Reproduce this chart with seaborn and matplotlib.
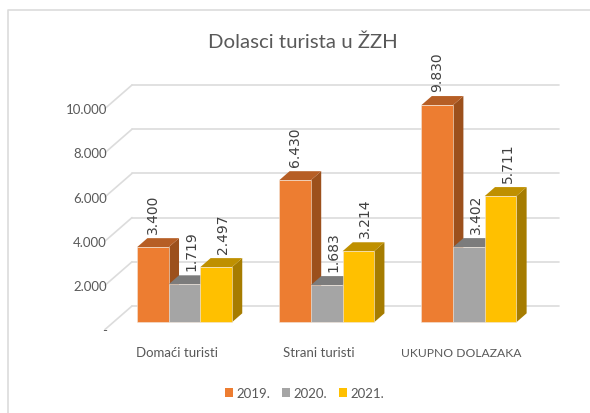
import pandas as pd
import matplotlib
matplotlib.use('Agg')
import matplotlib.pyplot as plt
import seaborn as sns
from matplotlib.lines import Line2D
from matplotlib.patches import Polygon, Patch

# Data
kategorije = ['Domaći turisti', 'Strani turisti', 'UKUPNO DOLAZAKA']
godine = ['2019.', '2020.', '2021.']
v2019 = [3400, 6430, 9830]
v2020 = [1719, 1683, 3402]
v2021 = [2497, 3214, 5711]
oznake = [['3.400', '6.430', '9.830'], ['1.719', '1.683', '3.402'], ['2.497', '3.214', '5.711']]
y_ticks = [0, 2000, 4000, 6000, 8000, 10000]
y_labels = ['-', '2.000', '4.000', '6.000', '8.000', '10.000']

boje = ['#ED7D31', '#A5A5A5', '#FFC000']
boje_vrh = ['#B65E25', '#7C7C7C', '#BF9000']
boje_bok = ['#9C501C', '#6A6A6A', '#A67C00']
siva_tekst = '#595959'
siva_linija = '#DCDCDC'

W, H = 590, 414

df = pd.DataFrame({'kategorija': kategorije * 3,
                   'godina': [g for g in godine for _ in kategorije],
                   'vrijednost': v2019 + v2020 + v2021})

sns.set_theme(style='white')
plt.rcParams['font.family'] = ['Lato', 'DejaVu Sans']

fig = plt.figure(figsize=(W / 100, H / 100), dpi=100)
# axes = plane of the front bar faces
left, right, bottom, top = 113, 540, 323.3, 102.3
ax = fig.add_axes([left / W, 1 - bottom / H, (right - left) / W, (bottom - top) / H])
sns.barplot(data=df, x='kategorija', y='vrijednost', hue='godina', order=kategorije,
            hue_order=godine, palette=boje, width=0.667, saturation=1, legend=False, ax=ax)
ax.set_xlim(-0.503, 2.5)
ax.set_ylim(0, 10000)
ax.set_xlabel('')
ax.set_ylabel('')
ax.set_xticks([])
ax.set_yticks([])
sns.despine(ax=ax, left=True, bottom=True)
ax.patch.set_alpha(0)
fig.canvas.draw()

# depth offsets in pixels
bar_dx, bar_dy = 10.3, 9

# back wall grid and left slants, behind the bars
x0_px = ax.transAxes.transform((0, 0))[0]
x1_px = ax.transAxes.transform((1, 0))[0]
for t in y_ticks:
    y_px = ax.transData.transform((0, t))[1]
    for xs, ys in [([x0_px + 19, x1_px + 19], [y_px + 16.3, y_px + 16.3]),
                   ([x0_px - 8, x0_px + 19], [y_px - 7.2, y_px + 16.3])]:
        linija = Line2D(xs, ys, color=siva_linija, lw=1.2, transform=None, zorder=1)
        linija.set_clip_on(False)
        ax.add_artist(linija)

# 3d sides and tops, taken from the bars seaborn drew
for s, cont in enumerate(ax.containers):
    for i, bar in enumerate(cont):
        (xa, ya), (xb, yb) = ax.transData.transform([(bar.get_x(), 0),
                                                     (bar.get_x() + bar.get_width(), bar.get_height())])
        z = 10 + i * 10 + s * 3
        bar.set_zorder(z + 2)
        bar.set_edgecolor('#F2E6DA')
        bar.set_linewidth(0.4)
        vrh = Polygon([(xa, yb), (xb, yb), (xb + bar_dx, yb + bar_dy), (xa + bar_dx, yb + bar_dy)],
                      closed=True, fc=boje_vrh[s], ec='none', transform=None, zorder=z + 1)
        bok = Polygon([(xb, ya), (xb, yb), (xb + bar_dx, yb + bar_dy), (xb + bar_dx, ya + bar_dy)],
                      closed=True, fc=boje_bok[s], ec='none', transform=None, zorder=z)
        ax.add_artist(bok)
        ax.add_artist(vrh)
        bok.set_clip_on(False)
        vrh.set_clip_on(False)
        bar.set_clip_on(False)
        # value labels
        pomak = 0 if s == 0 else 7
        ax.annotate(oznake[s][i], xy=(bar.get_x() + bar.get_width() / 2, bar.get_height()),
                    xytext=(pomak, 14), textcoords='offset pixels', rotation=90, ha='center', va='bottom',
                    fontsize=10, family='DejaVu Sans', color='#404040', zorder=100, annotation_clip=False)

# axis labels as text
for t, lab in zip(y_ticks, y_labels):
    ax.annotate(lab, xy=(0, t), xycoords=('axes fraction', 'data'), xytext=(-6, -8), textcoords='offset pixels',
                ha='right', va='center', fontsize=9.5, color=siva_tekst, annotation_clip=False)
for i, kat in enumerate(kategorije):
    ax.annotate(kat, xy=(i, 0), xycoords='data', xytext=(-8, -30), textcoords='offset pixels',
                ha='center', va='center', fontsize=8.7 if kat.isupper() else 9.5, color=siva_tekst,
                annotation_clip=False)

fig.text(302.5 / W, 1 - 42 / H, 'Dolasci turista u ŽZH', ha='center', va='center', fontsize=14.7, color=siva_tekst)

ruke = [Patch(fc=b, ec='none', label=g) for b, g in zip(boje, godine)]
fig.legend(handles=ruke, loc='center', bbox_to_anchor=(304.5 / W, 1 - 394 / H), ncol=3, frameon=False, fontsize=9.5,
           labelcolor=siva_tekst, handlelength=0.65, handleheight=0.65, handletextpad=0.25, columnspacing=0.85)

# chart border, cut off on the right and bottom in the screenshot
fig.add_artist(Line2D([7.5 / W, 7.5 / W, 1], [0, 1 - 11 / H, 1 - 11 / H], color=siva_linija, lw=1.2))

fig.savefig('out.png', dpi=100)
